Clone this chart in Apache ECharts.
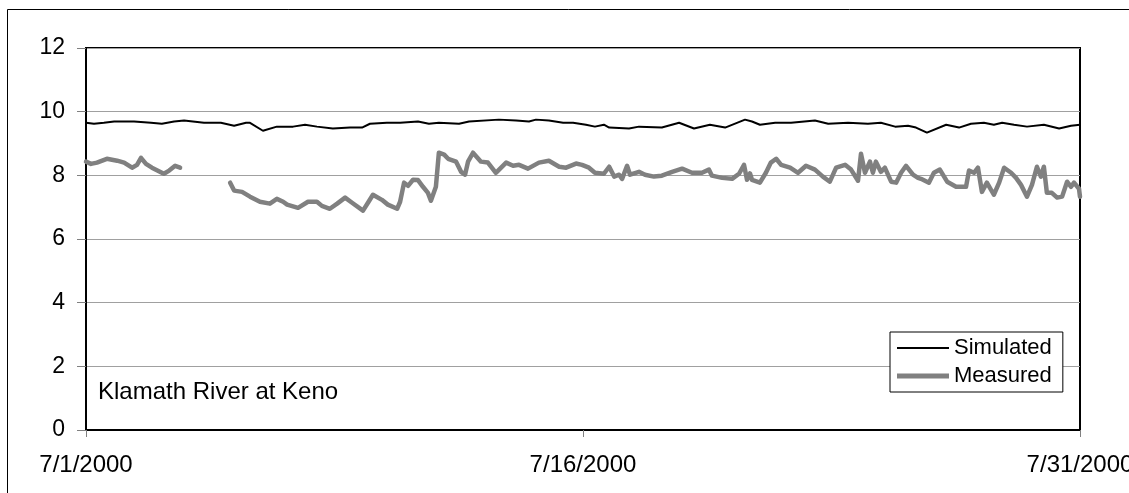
<!DOCTYPE html>
<html>
<head>
<meta charset="utf-8">
<script src="https://cdn.jsdelivr.net/npm/echarts@6/dist/echarts.min.js"></script>
<style>
  html, body { margin: 0; padding: 0; background: #fff; }
  #chart { width: 1129px; height: 493px; }
</style>
</head>
<body>
<div id="chart"></div>
<script>
/* ---------- data (days after 7/1/2000, value) ---------- */
const xTickLabels = ["7/1/2000", "7/16/2000", "7/31/2000"];
const seriesNames = ["Simulated", "Measured"];
const stationLabel = "Klamath River at Keno";

const simDays = [0.00, 0.24, 0.54, 0.85, 1.45, 1.96, 2.29, 2.66, 2.96, 3.56, 4.07, 4.47, 4.83, 4.95,
  5.34, 5.76, 6.25, 6.61, 6.97, 7.45, 7.97, 8.33, 8.57, 9.08, 9.48, 10.02, 10.35, 10.65, 11.26, 11.56,
  12.46, 12.98, 13.37, 13.58, 13.97, 14.40, 14.70, 15.09, 15.36, 15.63, 15.79, 16.39, 16.69, 17.38,
  17.90, 18.35, 18.83, 19.29, 19.89, 20.10, 20.34, 20.80, 21.28, 22.00, 22.40, 23.00, 23.60, 23.99,
  24.42, 24.81, 25.05, 25.38, 25.96, 26.35, 26.71, 27.10, 27.40, 27.65, 28.01, 28.40, 28.91, 29.37,
  29.73, 30.00];
const simValues = [9.65, 9.62, 9.65, 9.69, 9.69, 9.65, 9.62, 9.69, 9.72, 9.65, 9.65, 9.56, 9.65, 9.65,
  9.40, 9.53, 9.53, 9.59, 9.53, 9.47, 9.50, 9.50, 9.62, 9.65, 9.65, 9.69, 9.62, 9.65, 9.62, 9.69,
  9.75, 9.72, 9.69, 9.75, 9.72, 9.65, 9.65, 9.59, 9.53, 9.59, 9.50, 9.47, 9.53, 9.50,
  9.65, 9.47, 9.59, 9.50, 9.75, 9.69, 9.59, 9.65, 9.65, 9.72, 9.62, 9.65, 9.62, 9.65,
  9.53, 9.56, 9.50, 9.34, 9.59, 9.50, 9.62, 9.65, 9.59, 9.65, 9.59, 9.53, 9.59, 9.47,
  9.56, 9.59];

const measDays = [0.00, 0.15, 0.33, 0.63, 0.94, 1.15, 1.39, 1.54, 1.66, 1.81, 1.99, 2.35, 2.51, 2.69, 2.84,
  3.50,
  4.35, 4.47, 4.71, 4.95, 5.25, 5.55, 5.76, 5.95, 6.07, 6.40, 6.70, 6.97, 7.12, 7.36, 7.58, 7.82, 8.03,
  8.36, 8.51, 8.66, 8.93, 9.11, 9.39, 9.48, 9.60, 9.72, 9.87, 10.02, 10.17, 10.32, 10.41, 10.56, 10.65,
  10.81, 10.93, 11.17, 11.32, 11.44, 11.53, 11.68, 11.92, 12.13, 12.37, 12.68, 12.89, 13.07, 13.34,
  13.67, 13.97, 14.28, 14.49, 14.79, 14.97, 15.18, 15.36, 15.63, 15.79, 15.94, 16.09, 16.18, 16.33,
  16.42, 16.69, 16.87, 17.14, 17.38, 17.69, 17.99, 18.29, 18.59, 18.80, 18.89, 19.20, 19.50, 19.71,
  19.86, 19.95, 20.04, 20.10, 20.34, 20.52, 20.67, 20.83, 20.98, 21.25, 21.49, 21.73, 22.00, 22.24,
  22.45, 22.64, 22.91, 23.09, 23.30, 23.39, 23.51, 23.66, 23.75, 23.84, 23.99, 24.11, 24.30, 24.45,
  24.60, 24.75, 24.96, 25.11, 25.20, 25.44, 25.59, 25.77, 25.99, 26.26, 26.56, 26.65, 26.80, 26.92,
  27.04, 27.19, 27.40, 27.56, 27.71, 27.92, 28.07, 28.22, 28.40, 28.55, 28.70, 28.82, 28.91, 29.00,
  29.15, 29.31, 29.46, 29.61, 29.73, 29.82, 29.97, 30.00];
const measValues = [8.43, 8.36, 8.40, 8.52, 8.46, 8.40, 8.24, 8.33, 8.55, 8.36, 8.24, 8.05, 8.15, 8.30, 8.24,
  null,
  7.77, 7.52, 7.48, 7.33, 7.17, 7.11, 7.26, 7.17, 7.08, 6.98, 7.17, 7.17, 7.04, 6.95, 7.11, 7.30, 7.14,
  6.89, 7.14, 7.39, 7.23, 7.08, 6.95, 7.17, 7.77, 7.67, 7.86, 7.85, 7.64, 7.45, 7.20, 7.64, 8.71,
  8.65, 8.52, 8.43, 8.11, 8.02, 8.43, 8.71, 8.43, 8.40, 8.08, 8.40, 8.30, 8.33, 8.21,
  8.40, 8.46, 8.27, 8.24, 8.37, 8.33, 8.24, 8.08, 8.05, 8.27, 7.96, 8.02, 7.89, 8.30,
  8.02, 8.11, 8.02, 7.96, 7.99, 8.11, 8.21, 8.08, 8.08, 8.18, 7.99, 7.92, 7.89, 8.05,
  8.33, 7.86, 8.06, 7.86, 7.77, 8.08, 8.40, 8.52, 8.33, 8.24, 8.08, 8.30, 8.18, 7.96,
  7.80, 8.24, 8.33, 8.18, 7.83, 8.68, 8.08, 8.43, 8.08, 8.43, 8.11, 8.24, 7.80, 7.77,
  8.08, 8.30, 8.02, 7.92, 7.89, 7.77, 8.08, 8.18, 7.80, 7.64, 7.64, 8.15, 8.08, 8.24,
  7.48, 7.77, 7.39, 7.77, 8.24, 8.08, 7.92, 7.70, 7.33, 7.70, 8.27, 7.96, 8.27, 7.45,
  7.45, 7.30, 7.33, 7.80, 7.64, 7.77, 7.58, 7.33];

/* ---------- chart ---------- */
const FONT = "'Liberation Sans', Arial, sans-serif";
const chart = echarts.init(document.getElementById("chart"));

const simData = simDays.map((d, i) => [d, simValues[i]]);
const measData = measDays.map((d, i) => [d, measValues[i] === null ? "-" : measValues[i]]);

chart.setOption({
  animation: false,
  backgroundColor: "#fff",
  textStyle: { fontFamily: FONT },
  grid: {
    left: 86, right: 49, top: 48, bottom: 63,
    containLabel: false,
    outerBoundsMode: "none",
    show: true, borderColor: "#000", borderWidth: 2, backgroundColor: "transparent",
  },
  xAxis: {
    type: "value",
    min: 0, max: 30, interval: 15,
    axisLine: { lineStyle: { color: "#000", width: 2 } },
    axisTick: { show: true, inside: false, length: 7, lineStyle: { color: "#808080", width: 1 } },
    splitLine: { show: false },
    axisLabel: {
      margin: 23,
      fontSize: 24, color: "#000", fontFamily: FONT,
      formatter: (v) => xTickLabels[Math.round(v / 15)] || "",
    },
  },
  yAxis: {
    type: "value",
    min: 0, max: 12, interval: 2,
    axisLine: { show: true, lineStyle: { color: "#000", width: 2 } },
    axisTick: { show: true, inside: false, length: 9, lineStyle: { color: "#808080", width: 1 } },
    splitLine: { show: true, lineStyle: { color: "#a0a0a0", width: 1 } },
    axisLabel: { margin: 21, fontSize: 23, color: "#000", fontFamily: FONT },
  },
  legend: {
    orient: "vertical",
    left: 890, top: 332,
    padding: [5, 11, 5, 7],
    itemGap: 6,
    itemWidth: 52, itemHeight: 14,
    borderColor: "#000", borderWidth: 1, borderRadius: 0,
    backgroundColor: "#fff",
    textStyle: { fontSize: 22, color: "#000", fontFamily: FONT },
    data: [
      { name: seriesNames[0], icon: "path://M0 0H52V2H0Z" },
      { name: seriesNames[1], icon: "path://M0 0H52V5H0Z" },
    ],
  },
  graphic: [
    {
      type: "rect", silent: true, z: 100,
      shape: { x: 7.5, y: 9.5, width: 1200, height: 600 },
      style: { fill: "none", stroke: "#000", lineWidth: 1 },
    },
    {
      type: "text", left: 98, top: 380, z: 100,
      style: { text: stationLabel, fontSize: 24, fill: "#000", fontFamily: FONT },
    },
  ],
  series: [
    {
      name: seriesNames[0],
      type: "line",
      data: simData,
      symbol: "none",
      lineStyle: { color: "#000", width: 2 },
      itemStyle: { color: "#000" },
      z: 3,
    },
    {
      name: seriesNames[1],
      type: "line",
      data: measData,
      symbol: "none",
      connectNulls: false,
      lineStyle: { color: "#808080", width: 4.5, join: "round", cap: "round" },
      itemStyle: { color: "#808080" },
      z: 2,
    },
  ],
});
</script>
</body>
</html>
